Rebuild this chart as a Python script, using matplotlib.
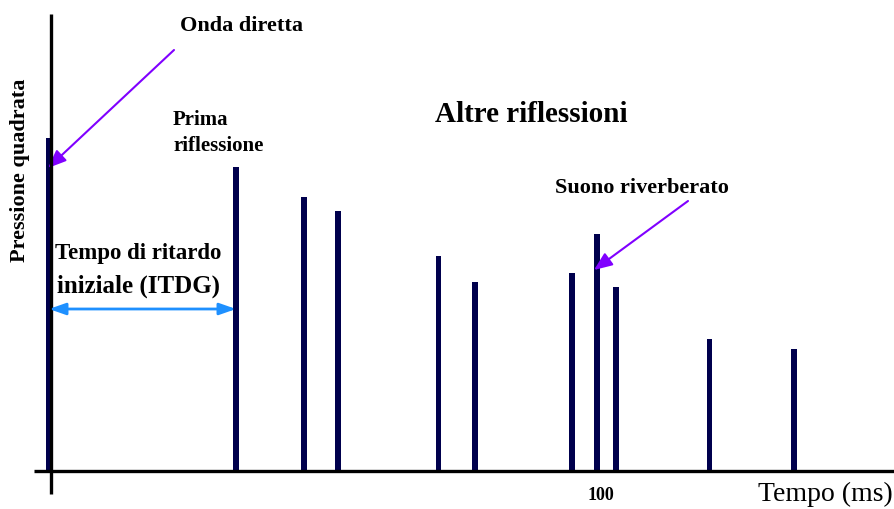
import matplotlib
matplotlib.use("Agg")
import matplotlib.pyplot as plt

# ---- data ----
times_ms = [0, 34.0, 46.4, 52.5, 70.8, 77.5, 95.1, 99.6, 103.1, 120.1, 135.5]
pressure = [1.0, 0.913, 0.823, 0.781, 0.646, 0.568, 0.595, 0.712, 0.553, 0.396, 0.366]
tick_positions = [100]
tick_labels = ["100"]

SERIF = ["Liberation Serif", "DejaVu Serif"]
BAR_COLOR = "#00004d"
PURPLE = "#8000ff"
BLUE = "#1e90ff"

W, H = 895, 509
fig = plt.figure(figsize=(W / 100, H / 100), dpi=100)
ax = fig.add_axes([0, 0, 1, 1])

# pixel mapping: t=0 at x=49, 5.5 px per ms; y=0 at pixel 471, 1.0 at 333 px above
x0, sx = 49.0, 5.5
y0, sy = 471.0, 333.0
ax.set_xlim((0 - x0) / sx, (W - x0) / sx)
ax.set_ylim((y0 - H) / sy, y0 / sy)

def dx(px):
    return (px - x0) / sx

def dy(py):
    return (y0 - py) / sy

for s in ax.spines.values():
    s.set_visible(False)
ax.set_xticks([])
ax.set_yticks([])

# bars
ax.bar(times_ms, pressure, width=1.05, color=BAR_COLOR, zorder=3)

# axes lines
ax.plot([dx(34), dx(W)], [0, 0], color="black", lw=2.4, zorder=4, solid_capstyle="butt")
ax.plot([dx(51), dx(51)], [dy(494), dy(14)], color="black", lw=2.4, zorder=4, solid_capstyle="butt")

# tick label
for tp, tl in zip(tick_positions, tick_labels):
    ax.text(tp + 0.4, dy(495), tl, ha="center", va="center", fontsize=13,
            fontweight="bold", family=SERIF)

ax.text(dx(893), dy(494), "Tempo (ms)", ha="right", va="center", fontsize=20, family=SERIF)
ax.text(dx(20.5), dy(170), "Pressione quadrata", ha="center", va="center", rotation=90,
        fontsize=16, fontweight="bold", family=SERIF)

# annotations
ax.text(dx(180), dy(26), "Onda diretta", ha="left", va="center", fontsize=16,
        fontweight="bold", family=SERIF)
ax.annotate("", xy=(dx(48), dy(168)), xytext=(dx(174), dy(50)),
            arrowprops=dict(arrowstyle="-|>,head_length=1.1,head_width=0.45", color=PURPLE,
                            lw=1.5, shrinkA=0, shrinkB=0))

ax.text(dx(173), dy(120), "Prima", ha="left", va="center", fontsize=15,
        fontweight="bold", family=SERIF)
ax.text(dx(173), dy(146), "riflessione", ha="left", va="center", fontsize=15,
        fontweight="bold", family=SERIF)

ax.text(dx(435), dy(115), "Altre riflessioni", ha="left", va="center", fontsize=21,
        fontweight="bold", family=SERIF)

ax.text(dx(555), dy(188), "Suono riverberato", ha="left", va="center", fontsize=16,
        fontweight="bold", family=SERIF)
ax.annotate("", xy=(dx(594), dy(270)), xytext=(dx(688), dy(201)),
            arrowprops=dict(arrowstyle="-|>,head_length=1.1,head_width=0.45", color=PURPLE,
                            lw=1.5, shrinkA=0, shrinkB=0))

ax.text(dx(55), dy(254), "Tempo di ritardo", ha="left", va="center", fontsize=16.5,
        fontweight="bold", family=SERIF)
ax.text(dx(57), dy(286), "iniziale (ITDG)", ha="left", va="center", fontsize=18,
        fontweight="bold", family=SERIF)
ax.annotate("", xy=(times_ms[1], dy(309)), xytext=(0, dy(309)),
            arrowprops=dict(arrowstyle="<|-|>,head_length=1.0,head_width=0.35", color=BLUE,
                            lw=2, shrinkA=0, shrinkB=0), zorder=5)

fig.savefig("out.png", dpi=100)
